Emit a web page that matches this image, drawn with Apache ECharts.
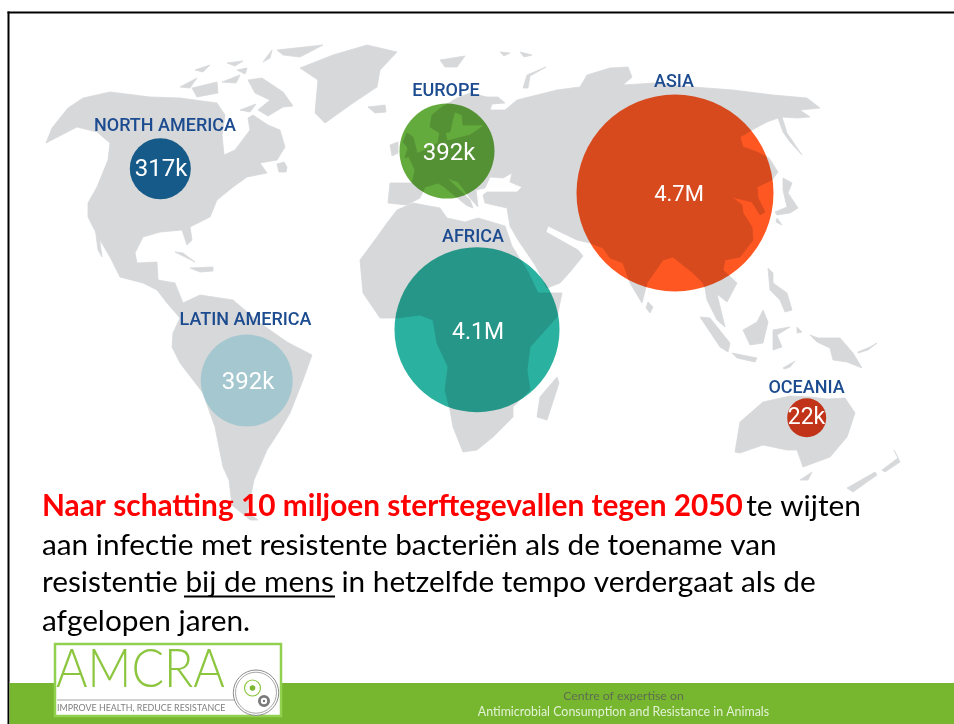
<!DOCTYPE html>
<html>
<head>
<meta charset="utf-8">
<title>AMR deaths 2050</title>
<style>
    html, body { margin: 0; padding: 0; background: #fff; }
    #main { width: 954px; height: 724px; }
</style>
<script src="https://cdn.jsdelivr.net/npm/echarts@6/dist/echarts.min.js"></script>
</head>
<body>
<div id="main"></div>
<script>
// regions, clockwise from the left of the map
var regionNames = ['NORTH AMERICA', 'EUROPE', 'ASIA', 'AFRICA', 'LATIN AMERICA', 'OCEANIA'];
var regionDeaths = [317000, 392000, 4700000, 4100000, 392000, 22000];

// bubble place on the slide and diameter
var bubbleX = [160.3, 447, 675, 477, 246.7, 806.7];
var bubbleY = [168.7, 151, 193, 329.7, 380.5, 417.7];
var bubbleDiameter = [61, 95, 197, 165, 92, 39];
var nameX = [165, 446, 674, 473, 245.5, 806.5];
var nameY = [124, 89.5, 80, 235, 318, 386];
var valueX = [161, 449, 679, 478, 248, 806.5];
var valueY = [167.7, 152, 193, 331.7, 381, 416];
var bubbleColors = ['#196a9f', '#63ab3c', '#ff5722', '#2bb19f', '#c4edf4', '#e53d1e'];
var valueFontSize = [24, 24, 22, 23, 24, 23];

// land outlines for the background map
var northAmerica = [[46,143],[52,128],[68,108],[83,98],[110,92],[150,97],[180,98],[217,103],[225,115],[222,135],[224,155],[235,150],[250,130],[248,118],[253,115],[268,125],[280,130],[285,147],[277,160],[260,163],[267,173],[247,177],[233,187],[217,200],[210,217],[190,227],[192,240],[187,245],[182,230],[160,232],[143,237],[135,253],[137,263],[157,262],[158,280],[175,283],[183,303],[200,295],[233,300],[260,323],[287,342],[312,355],[303,380],[290,413],[280,430],[267,450],[254,480],[250,500],[247,512],[258,520],[250,520],[232,505],[229,480],[223,467],[215,427],[203,393],[180,363],[172,347],[173,333],[180,318],[167,303],[157,290],[143,283],[120,277],[110,257],[100,240],[92,225],[88,217],[88,203],[97,187],[108,160],[110,143],[97,132],[77,127]];
var baja = [[95,227],[98,228],[102,257],[98,250]];
var greenland = [[300,68],[333,55],[367,45],[397,52],[380,70],[377,87],[353,103],[325,123],[315,113],[318,80]];
var iceland = [[368,107],[385,105],[386,112],[375,113]];
var svalbard = [[440,60],[465,56],[457,67],[445,67]];
var ellesmere = [[277,50],[323,45],[300,57],[283,55]];
var devon = [[263,62],[272,50],[270,58]];
var baffin = [[248,80],[262,78],[283,92],[293,106],[283,107],[268,116],[258,110],[270,100],[255,93]];
var southampton = [[240,110],[256,104],[250,112]];
var victoria = [[192,88],[217,82],[218,93],[197,97]];
var banks = [[180,87],[197,78],[190,88]];
var melville = [[195,70],[210,65],[203,72]];
var bathurst = [[227,63],[243,61],[235,66]];
var cornwallis = [[237,70],[247,68],[245,74]];
var somerset = [[222,82],[240,75],[236,83]];
var newfoundland = [[277,164],[284,162],[287,167],[286,172],[279,172]];
var cuba = [[175,252],[183,253],[195,262],[185,257]];
var hispaniola = [[190,268],[213,267],[213,271],[200,272]];
var eurasia = [[409,157],[425,150],[438,143],[440,130],[445,130],[447,141],[470,135],[482,127],[484,125],[463,125],[462,115],[455,112],[453,118],[450,132],[440,133],[430,127],[432,115],[442,107],[457,98],[470,93],[487,97],[498,97],[505,103],[492,104],[490,110],[505,110],[517,100],[557,90],[580,87],[587,75],[610,68],[628,67],[632,77],[623,85],[655,83],[693,87],[733,90],[773,95],[807,98],[820,108],[800,110],[810,117],[797,118],[782,117],[787,133],[802,155],[790,142],[783,132],[778,118],[767,122],[752,130],[740,137],[743,147],[757,152],[769,158],[778,172],[772,180],[757,187],[758,198],[765,212],[760,215],[752,202],[732,197],[742,205],[743,213],[752,227],[753,240],[740,257],[725,260],[723,270],[737,283],[727,302],[717,294],[725,327],[717,320],[707,300],[705,288],[703,283],[693,273],[673,257],[663,260],[647,283],[642,303],[630,283],[623,263],[610,258],[603,248],[590,243],[577,240],[548,226],[546,232],[578,250],[583,256],[570,272],[560,283],[547,288],[535,265],[518,240],[510,226],[507,208],[485,203],[483,195],[487,192],[517,192],[522,187],[510,182],[512,173],[503,178],[490,177],[485,188],[476,190],[478,207],[470,198],[462,187],[458,182],[447,178],[470,200],[473,208],[466,205],[443,186],[438,183],[425,187],[420,198],[407,205],[388,203],[390,183],[412,183],[415,170]];
var britain = [[407,133],[413,137],[417,153],[405,158],[408,148],[403,142]];
var ireland = [[390,145],[398,142],[398,153],[392,156]];
var novayaZemlya = [[523,88],[527,75],[546,67],[530,76],[528,88]];
var franzJosef1 = [[500,52],[510,53],[504,56]];
var franzJosef2 = [[520,52],[532,55],[524,57]];
var japan = [[783,178],[792,183],[788,193],[798,208],[790,213],[777,215],[775,212],[787,207],[783,190]];
var kyushu = [[777,218],[782,225],[776,222]];
var africa = [[397,210],[413,203],[440,208],[447,218],[465,222],[478,218],[505,226],[512,246],[528,272],[538,293],[562,293],[557,317],[530,347],[527,370],[530,390],[513,407],[513,417],[493,437],[477,450],[463,452],[453,427],[450,410],[445,390],[448,367],[437,343],[433,320],[420,315],[397,318],[380,318],[363,293],[360,260],[377,237],[387,223]];
var madagascar = [[537,417],[540,397],[557,377],[559,383],[547,420]];
var sriLanka = [[648,302],[653,307],[650,313],[646,308]];
var philippines = [[768,268],[773,273],[773,283],[787,293],[792,310],[785,312],[780,300],[770,290]];
var sumatra = [[700,317],[710,318],[730,343],[728,352],[720,347]];
var java = [[732,353],[757,358],[755,362],[737,358]];
var borneo = [[763,310],[768,322],[763,343],[750,345],[743,330],[757,322]];
var sulawesi = [[773,330],[790,327],[777,335],[782,347],[773,350]];
var timor = [[783,368],[795,361],[790,367],[785,369]];
var moluccas = [[797,327],[802,332],[797,333]];
var newGuinea = [[810,335],[818,338],[840,338],[853,353],[862,368],[847,362],[833,360],[830,348],[817,342]];
var newBritain = [[858,352],[870,347],[877,343],[868,350],[858,353]];
var australia = [[735,452],[740,422],[763,402],[790,396],[810,397],[827,399],[845,398],[855,413],[847,437],[830,457],[803,467],[797,450],[787,450],[763,445],[740,453]];
var tasmania = [[800,480],[812,472],[808,480]];
var newZealandN = [[882,470],[898,458],[894,450],[900,462],[885,472]];
var newZealandS = [[847,488],[875,472],[877,475],[853,492]];

var landShapes = [northAmerica, baja, greenland, iceland, svalbard, ellesmere, devon, baffin, southampton, victoria, banks, melville, bathurst, cornwallis, somerset, newfoundland, cuba, hispaniola, eurasia, britain, ireland, novayaZemlya, franzJosef1, franzJosef2, japan, kyushu, africa, madagascar, sriLanka, philippines, sumatra, java, borneo, sulawesi, timor, moluccas, newGuinea, newBritain, australia, tasmania, newZealandN, newZealandS];

// slide text
var textLines = [
    '{r|Naar schatting 10 miljoen sterftegevallen tegen 2050} {k|te wijten}',
    '{k|aan infectie met resistente bacteriën als de toename van}',
    '{k|resistentie bij de mens in hetzelfde tempo verdergaat als de}',
    '{k|afgelopen jaren.}'
];
var textLineY = [506, 545, 582.5, 621.5];
var footerLines = ['Centre of expertise on', 'Antimicrobial Consumption and Resistance in Animals'];

function formatDeaths(v) {
    return v >= 1000000 ? (v / 1000000).toFixed(1) + 'M' : (v / 1000) + 'k';
}

var main = echarts.init(document.getElementById('main'));

var slideFont = 'Lato, "Noto Sans", sans-serif';
var labelFont = 'Roboto, sans-serif';

var slideGraphics = [
    // frame
    { type: 'rect', z: 1, shape: { x: 7.5, y: 11.5, width: 947, height: 2 }, style: { fill: '#000' } },
    { type: 'rect', z: 1, shape: { x: 7.5, y: 11.5, width: 2, height: 713 }, style: { fill: '#000' } },
    // footer band
    { type: 'rect', z: 1, shape: { x: 9.5, y: 683, width: 945, height: 41 }, style: { fill: '#76b72f' } },
    { type: 'text', z: 20, x: 623.5, y: 696, style: { text: footerLines[0], font: '12.3px ' + slideFont, fill: '#5f6e50', align: 'center', verticalAlign: 'middle' } },
    { type: 'text', z: 20, x: 623.5, y: 712, style: { text: footerLines[1], font: '12.4px ' + slideFont, fill: '#e3f1d5', align: 'center', verticalAlign: 'middle' } },
    // underline of "bij de mens"
    { type: 'rect', z: 20, shape: { x: 184, y: 595.5, width: 151, height: 2 }, style: { fill: '#000' } },
    // logo
    { type: 'rect', z: 20, shape: { x: 55, y: 644, width: 226, height: 72 }, style: { fill: '#fff', stroke: '#92d050', lineWidth: 2.5 } },
    { type: 'text', z: 21, x: 56, y: 670, scaleX: 0.91, style: { text: 'AMCRA', font: '300 53px ' + slideFont, fill: '#8cc63f', align: 'left', verticalAlign: 'middle' } },
    { type: 'rect', z: 21, shape: { x: 57, y: 699.5, width: 178, height: 1 }, style: { fill: '#a6a6a6' } },
    { type: 'text', z: 21, x: 57, y: 708.5, style: { text: 'IMPROVE HEALTH, REDUCE RESISTANCE', font: '8.9px ' + slideFont, fill: '#7f7f7f', align: 'left', verticalAlign: 'middle' } },
    { type: 'circle', z: 22, shape: { cx: 256, cy: 692.7, r: 22.7 }, style: { fill: '#fff', stroke: '#8c8c8c', lineWidth: 1 } },
    { type: 'circle', z: 22, shape: { cx: 256, cy: 692.7, r: 20.5 }, style: { fill: 'none', stroke: '#a6a6a6', lineWidth: 1 } },
    { type: 'circle', z: 22, shape: { cx: 252.5, cy: 688, r: 8 }, style: { fill: '#fff', stroke: '#8cc63f', lineWidth: 1.2 } },
    { type: 'circle', z: 22, shape: { cx: 252.5, cy: 688, r: 2.8 }, style: { fill: '#7ab82f' } },
    { type: 'circle', z: 22, shape: { cx: 264, cy: 701, r: 4.6 }, style: { fill: '#fff', stroke: '#7a7a7a', lineWidth: 2.8 } },
    { type: 'circle', z: 22, shape: { cx: 264, cy: 701, r: 1.2 }, style: { fill: '#7a7a7a' } }
];
textLines.forEach(function (line, i) {
    slideGraphics.push({
        type: 'text', z: 20, x: 42, y: textLineY[i],
        style: {
            text: line, align: 'left', verticalAlign: 'middle',
            rich: {
                r: { fontFamily: 'Lato', fontWeight: 'bold', fontSize: 29.8, fill: '#ff0000' },
                k: { fontFamily: 'Lato', fontWeight: 'normal', fontSize: 29.8, fill: '#000000' }
            }
        }
    });
});

var option = {
    animation: false,
    backgroundColor: '#ffffff',
    grid: { left: 0, right: 0, top: 0, bottom: 0 },
    xAxis: { type: 'value', min: 0, max: 954, show: false },
    yAxis: { type: 'value', min: 0, max: 724, inverse: true, show: false },
    graphic: { elements: slideGraphics },
    series: [
        {
            type: 'custom',
            name: 'land',
            z: 2,
            silent: true,
            data: landShapes.map(function (s, i) { return [i]; }),
            renderItem: function (params, api) {
                var shape = landShapes[api.value(0)];
                return {
                    type: 'polygon',
                    shape: { points: shape.map(function (p) { return api.coord(p); }) },
                    style: { fill: '#d7d8da', stroke: '#d7d8da', lineWidth: 0.8, lineJoin: 'round' }
                };
            }
        },
        {
            type: 'scatter',
            name: 'deaths',
            z: 3,
            silent: true,
            blendMode: 'multiply',
            data: regionDeaths.map(function (v, i) {
                return { value: [bubbleX[i], bubbleY[i], v], symbolSize: bubbleDiameter[i], itemStyle: { color: bubbleColors[i], opacity: 1 } };
            })
        },
        {
            type: 'scatter',
            name: 'values',
            z: 4,
            silent: true,
            symbolSize: 0,
            itemStyle: { opacity: 1 },
            data: regionDeaths.map(function (v, i) {
                return {
                    value: [valueX[i], valueY[i]],
                    label: { show: true, position: 'inside', offset: [0, 2], formatter: formatDeaths(v), color: '#fff', fontFamily: labelFont, fontWeight: 400, fontSize: valueFontSize[i] }
                };
            })
        },
        {
            type: 'scatter',
            name: 'regions',
            z: 4,
            silent: true,
            symbolSize: 0,
            itemStyle: { opacity: 1 },
            data: regionNames.map(function (n, i) {
                return {
                    value: [nameX[i], nameY[i]],
                    label: { show: true, position: 'inside', offset: [0, 2], formatter: n, color: '#1c4b8f', fontFamily: labelFont, fontWeight: 500, fontSize: 18 }
                };
            })
        }
    ]
};

main.setOption(option);
</script>
</body>
</html>
